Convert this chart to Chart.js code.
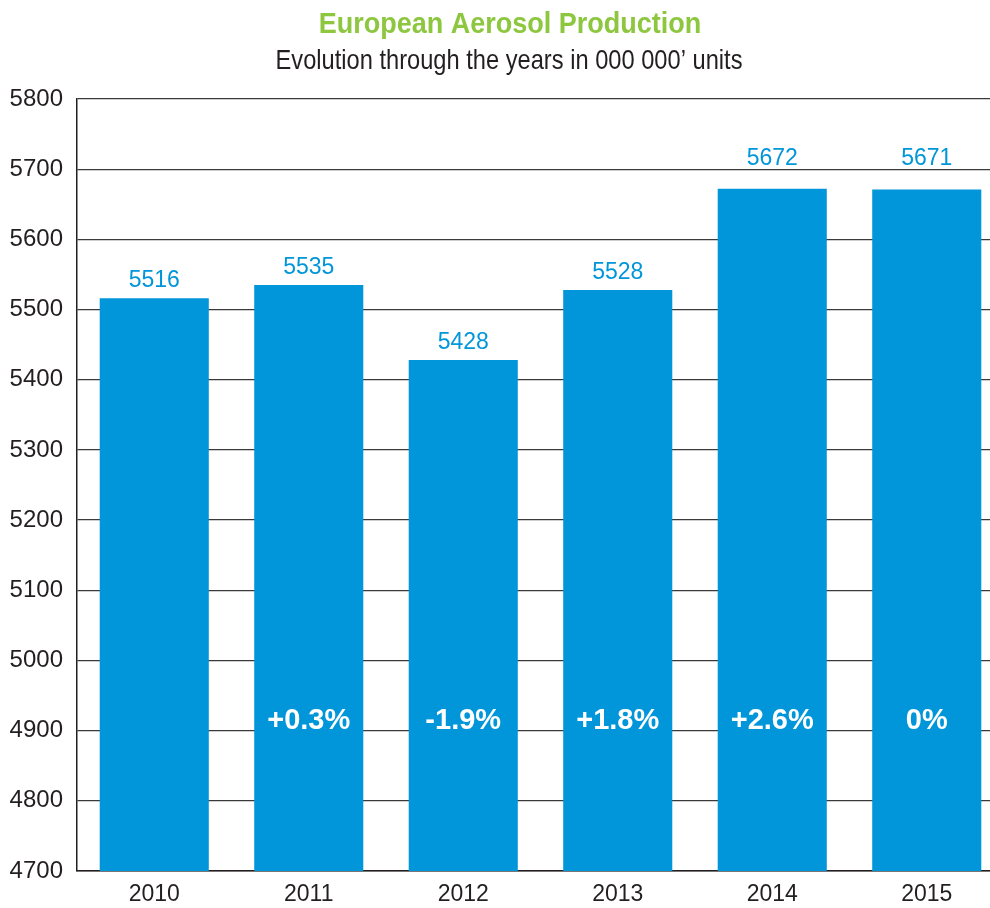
<!DOCTYPE html>
<html>
<head>
<meta charset="utf-8">
<script src="https://cdn.jsdelivr.net/npm/chart.js@4.4.1/dist/chart.umd.min.js"></script>
<style>
html,body{margin:0;padding:0;background:#fff;overflow:hidden;width:990px;height:908px;}
#wrap{position:relative;width:1004px;height:908px;}
canvas{display:block;}
</style>
</head>
<body>
<div id="wrap"><canvas id="c" width="1004" height="908"></canvas></div>
<script>
const years = ['2010', '2011', '2012', '2013', '2014', '2015'];
const production = [5516, 5535, 5428, 5528, 5672, 5671];
const changes = ['', '+0.3%', '-1.9%', '+1.8%', '+2.6%', '0%'];
const titleText = 'European Aerosol Production';
const subtitleText = 'Evolution through the years in 000 000\u2019 units';

const BAR = '#0096d9';
const sans = '"Liberation Sans", Arial, sans-serif';

function drawCondensed(ctx, text, cx, baseline, font, color, sx) {
  ctx.save();
  ctx.font = font;
  ctx.fillStyle = color;
  ctx.textAlign = 'center';
  ctx.textBaseline = 'alphabetic';
  ctx.translate(cx, baseline);
  ctx.scale(sx, 1);
  ctx.fillText(text, 0, 0);
  ctx.restore();
}

const labelsPlugin = {
  id: 'labels',
  afterDatasetsDraw(chart) {
    const ctx = chart.ctx;
    const meta = chart.getDatasetMeta(0);
    const y = chart.scales.y;
    const gridPx = y.ticks.map(t => y.getPixelForValue(t.value));
    ctx.save();
    ctx.textAlign = 'center';
    meta.data.forEach((bar, i) => {
      ctx.fillStyle = BAR;
      ctx.font = '23px ' + sans;
      ctx.textBaseline = 'alphabetic';
      let base = bar.y - 11;
      const top = base - 17;
      gridPx.forEach(g => { if (g > top - 2 && g < base + 3) base = Math.min(base, g - 4); });
      ctx.fillText(String(production[i]), bar.x, base);
      if (changes[i]) {
        ctx.fillStyle = '#ffffff';
        ctx.font = 'bold 29px ' + sans;
        ctx.textBaseline = 'middle';
        ctx.fillText(changes[i], bar.x, y.getPixelForValue(4914));
      }
    });
    ctx.restore();
    drawCondensed(ctx, titleText, 510, 33, 'bold 30px ' + sans, '#8dc63f', 0.90);
    drawCondensed(ctx, subtitleText, 509, 69, '28px ' + sans, '#231f20', 0.845);
  }
};

new Chart(document.getElementById('c'), {
  type: 'bar',
  data: {
    labels: years,
    datasets: [{
      data: production,
      backgroundColor: BAR,
      borderWidth: 0,
      barPercentage: 0.706,
      categoryPercentage: 1.0
    }]
  },
  options: {
    responsive: false,
    animation: false,
    layout: { padding: { top: 99, right: 0, left: 0, bottom: 0 } },
    plugins: { legend: { display: false }, tooltip: { enabled: false } },
    scales: {
      x: {
        grid: { display: false, drawTicks: false },
        border: { display: true, color: '#231f20', width: 1.5 },
        ticks: { color: '#231f20', font: { family: sans, size: 23 }, padding: 10 },
        afterFit(s) { s.height = 37; }
      },
      y: {
        min: 4700,
        max: 5800,
        ticks: { stepSize: 100, color: '#231f20', font: { family: sans, size: 24 }, padding: 14,
                 callback: v => String(v) },
        grid: { color: '#3a3a3a', lineWidth: 1.2, drawTicks: false },
        border: { display: true, color: '#231f20', width: 1.5 },
        afterFit(s) { s.width = 77; }
      }
    }
  },
  plugins: [labelsPlugin]
});
</script>
</body>
</html>
